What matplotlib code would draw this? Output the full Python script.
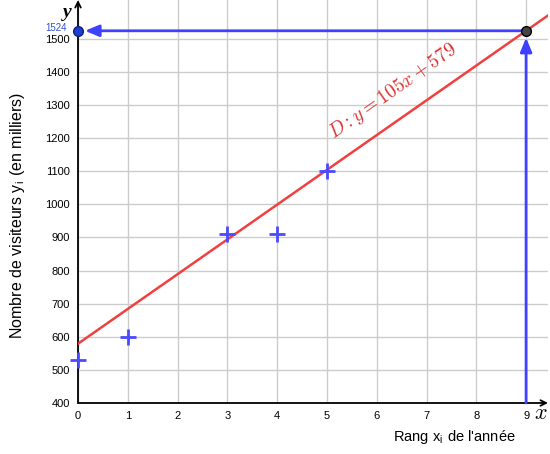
import matplotlib
matplotlib.use("Agg")
import matplotlib.pyplot as plt
import numpy as np

x_rank = [0, 1, 3, 4, 5]
visitors = [530, 600, 910, 910, 1100]
slope, intercept = 105, 579
x_pred = 9
y_pred = 1524
x_ticks = list(range(0, 10))
y_ticks = list(range(400, 1501, 100))

plt.rcParams["font.family"] = ["Liberation Sans", "DejaVu Sans"]
plt.rcParams["mathtext.fontset"] = "cm"

fig = plt.figure(figsize=(5.5, 4.54), dpi=100)
ax = fig.add_axes([78/550, 51/454, 470/550, 403/454])
xmin, xmax = 0, 9.44
ymin, ymax = 400, 1617
ax.set_xlim(xmin, xmax)
ax.set_ylim(ymin, ymax)

for s in ax.spines.values():
    s.set_visible(False)
ax.set_xticks(x_ticks)
ax.set_yticks(y_ticks)
ax.tick_params(length=0, labelsize=8, pad=6)
ax.grid(True, color="#cccccc", lw=1)
ax.set_axisbelow(True)

# axes with arrows
ax.annotate("", xy=(xmax, ymin), xytext=(xmin, ymin),
            arrowprops=dict(arrowstyle="->", color="black", lw=1.3, shrinkA=0, shrinkB=0),
            annotation_clip=False)
ax.annotate("", xy=(xmin, ymax), xytext=(xmin, ymin),
            arrowprops=dict(arrowstyle="->", color="black", lw=1.3, shrinkA=0, shrinkB=0),
            annotation_clip=False)

# regression line
xl = np.array([0, xmax])
ax.plot(xl, slope * xl + intercept, color="#f04040", lw=1.8, zorder=3)

# data points
ax.plot(x_rank, visitors, linestyle="none", marker="+", ms=11, mew=2,
        color="#4a4aff", zorder=4, clip_on=False)

# projection arrows
blue = "#4040ff"
ax.annotate("", xy=(x_pred, y_pred), xytext=(x_pred, ymin),
            arrowprops=dict(arrowstyle="-|>,head_length=0.6,head_width=0.25", color=blue, lw=2,
                            mutation_scale=14, shrinkA=0, shrinkB=5), zorder=5)
ax.annotate("", xy=(0, y_pred), xytext=(x_pred, y_pred),
            arrowprops=dict(arrowstyle="-|>,head_length=0.6,head_width=0.25", color=blue, lw=2,
                            mutation_scale=14, shrinkA=0, shrinkB=5), zorder=5)
ax.plot([x_pred], [y_pred], "o", ms=7, mfc="#444444", mec="black", zorder=6, clip_on=False)
ax.plot([0], [y_pred], "o", ms=7, mfc="#1f3fcc", mec="#102080", zorder=6, clip_on=False)
ax.text(-0.22, y_pred + 8, str(y_pred), color="#3050d0", fontsize=7,
        ha="right", va="center")

# equation label
ax.text(6.45, 1315, r"$D : y = 105x + 579$", color="#e03030", fontsize=14,
        rotation=35, rotation_mode="anchor", ha="center", va="bottom",
        transform_rotates_text=False)

# axis names
ax.text(-0.22, 1578, "y", fontsize=14, ha="center", va="center",
        family="Liberation Serif", style="italic", weight="bold")
ax.text(9.3, 368, r"$x$", fontsize=16, ha="center", va="center")

fig.text(18/550, 1 - 215/454, r"Nombre de visiteurs y$_\mathregular{i}$ (en milliers)",
         rotation=90, ha="center", va="center", fontsize=11.5)
fig.text(454/550, 1 - 437/454, r"Rang x$_\mathregular{i}$ de l'année",
         ha="center", va="center", fontsize=10.5)

fig.savefig("out.png", dpi=100)
